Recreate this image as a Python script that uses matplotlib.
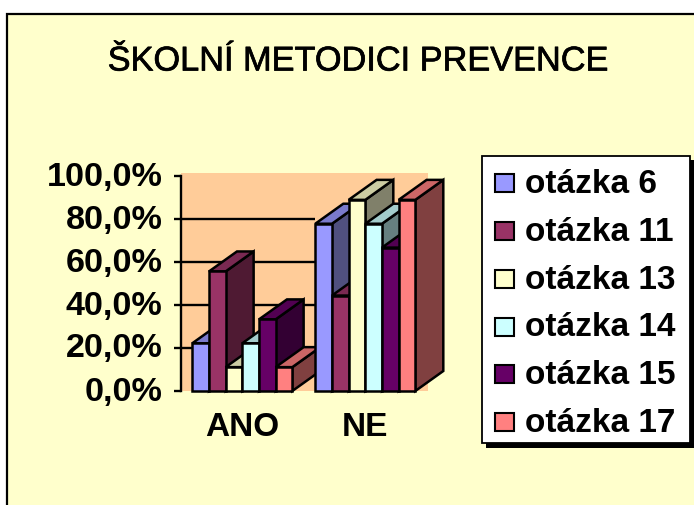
import matplotlib
matplotlib.use("Agg")
import matplotlib.pyplot as plt
import matplotlib.patheffects as pe
from matplotlib.patches import Polygon, Rectangle
from matplotlib.transforms import ScaledTranslation

W, H = 694, 505
title = "ŠKOLNÍ METODICI PREVENCE"
categories = ["ANO", "NE"]
series = ["otázka 6", "otázka 11", "otázka 13", "otázka 14", "otázka 15", "otázka 17"]
ano_values = [22.2, 55.6, 11.1, 22.2, 33.3, 11.1]
ne_values = [77.8, 44.4, 88.9, 77.8, 66.7, 88.9]
y_ticks = [0, 20, 40, 60, 80, 100]
y_labels = ["0,0%", "20,0%", "40,0%", "60,0%", "80,0%", "100,0%"]
front = ["#9999FF", "#993366", "#FFFFCC", "#CCFFFF", "#660066", "#FF8080"]
top = ["#7A7ACC", "#7A2952", "#CCCCA3", "#A3CCCC", "#520052", "#CC6666"]
side = ["#50507F", "#4F1A33", "#80806A", "#668080", "#330033", "#804040"]

BG = "#FFFFCC"
WALL = "#FFCC99"
fig = plt.figure(figsize=(W / 100, H / 100), dpi=100, facecolor="white")
plt.rcParams["font.family"] = ["Liberation Sans", "DejaVu Sans"]

# page layer in pixels
page = fig.add_axes([0, 0, 1, 1])
page.set_xlim(0, W)
page.set_ylim(H, 0)
page.axis("off")
page.add_patch(Rectangle((7.5, 13.5), 720, 520, fc=BG, ec="black", lw=1.6, clip_on=True))
page.text(357, 62, title, ha="center", va="center", fontsize=24.7, color="black",
          path_effects=[pe.withStroke(linewidth=0.5, foreground="black")])

# chart layer: x in category units, y in percent
L, R, T, B = 180.5, 428.0, 176.0, 391.0
ax = fig.add_axes([L / W, 1 - B / H, (R - L) / W, (B - T) / H])
ax.patch.set_alpha(0)
PITCH = 123.0
x0 = -(192.3 - L) / PITCH
ax.set_xlim(x0, x0 + (R - L) / PITCH)
ax.set_ylim(0, 100)
for s in ["top", "right", "bottom"]:
    ax.spines[s].set_visible(False)
ax.spines["left"].set_linewidth(1.7)
ax.set_yticks(y_ticks, y_labels, fontsize=24.6, fontweight="bold")
ax.tick_params(axis="y", length=5, width=1.7, pad=8)
ax.set_xticks([])
ax.set_zorder(2)
shift = ScaledTranslation(0, 2.5 / 100, fig.dpi_scale_trans)
for lab in ax.get_yticklabels():
    lab.set_transform(lab.get_transform() + shift)

bar_w = 0.1355
dx = 28 / PITCH
dy = 20 / ((B - T) / 100)
ax.add_patch(Rectangle((x0, 0), (R - L) / PITCH, 100 + 3 / 2.15, fc=WALL, ec="none", clip_on=False, zorder=0))
for v in y_ticks[1:-1]:
    ax.plot([x0, 1.0], [v, v], color="black", lw=1.7, zorder=1, solid_capstyle="butt")

z = 2
for g, vals in enumerate([ano_values, ne_values]):
    for k, v in enumerate(vals):
        a = g + k * bar_w
        b = a + bar_w
        kw = dict(ec="black", lw=1.8, clip_on=False, joinstyle="miter")
        ax.add_patch(Polygon([(b, 0), (b + dx, dy), (b + dx, v + dy), (b, v)], fc=side[k], zorder=z, **kw))
        ax.add_patch(Polygon([(a, v), (a + dx, v + dy), (b + dx, v + dy), (b, v)], fc=top[k], zorder=z, **kw))
        ax.add_patch(Rectangle((a, 0), bar_w, v, fc=front[k], zorder=z + 0.5, **kw))
        z += 1
    ax.annotate(categories[g], (g + 3 * bar_w, 0), xytext=(0, -36 * 0.72), textcoords="offset points",
                ha="center", va="center", fontsize=24, fontweight="bold", annotation_clip=False)

# legend
leg = fig.add_axes([0, 0, 1, 1], zorder=5)
leg.set_xlim(0, W)
leg.set_ylim(H, 0)
leg.axis("off")
leg.add_patch(Rectangle((486, 160), 208, 288, fc="black", ec="none"))
leg.add_patch(Rectangle((482.5, 155.5), 207.5, 287, fc="white", ec="black", lw=1.3))
for i, name in enumerate(series):
    yc = 182.8 + i * 47.9
    leg.add_patch(Rectangle((495, yc - 9), 19, 18, fc=front[i], ec="black", lw=1.5))
    leg.text(525.5, yc + 1.5, name, ha="left", va="center", fontsize=24, fontweight="bold")

fig.savefig("out.png", dpi=100, facecolor="white")
